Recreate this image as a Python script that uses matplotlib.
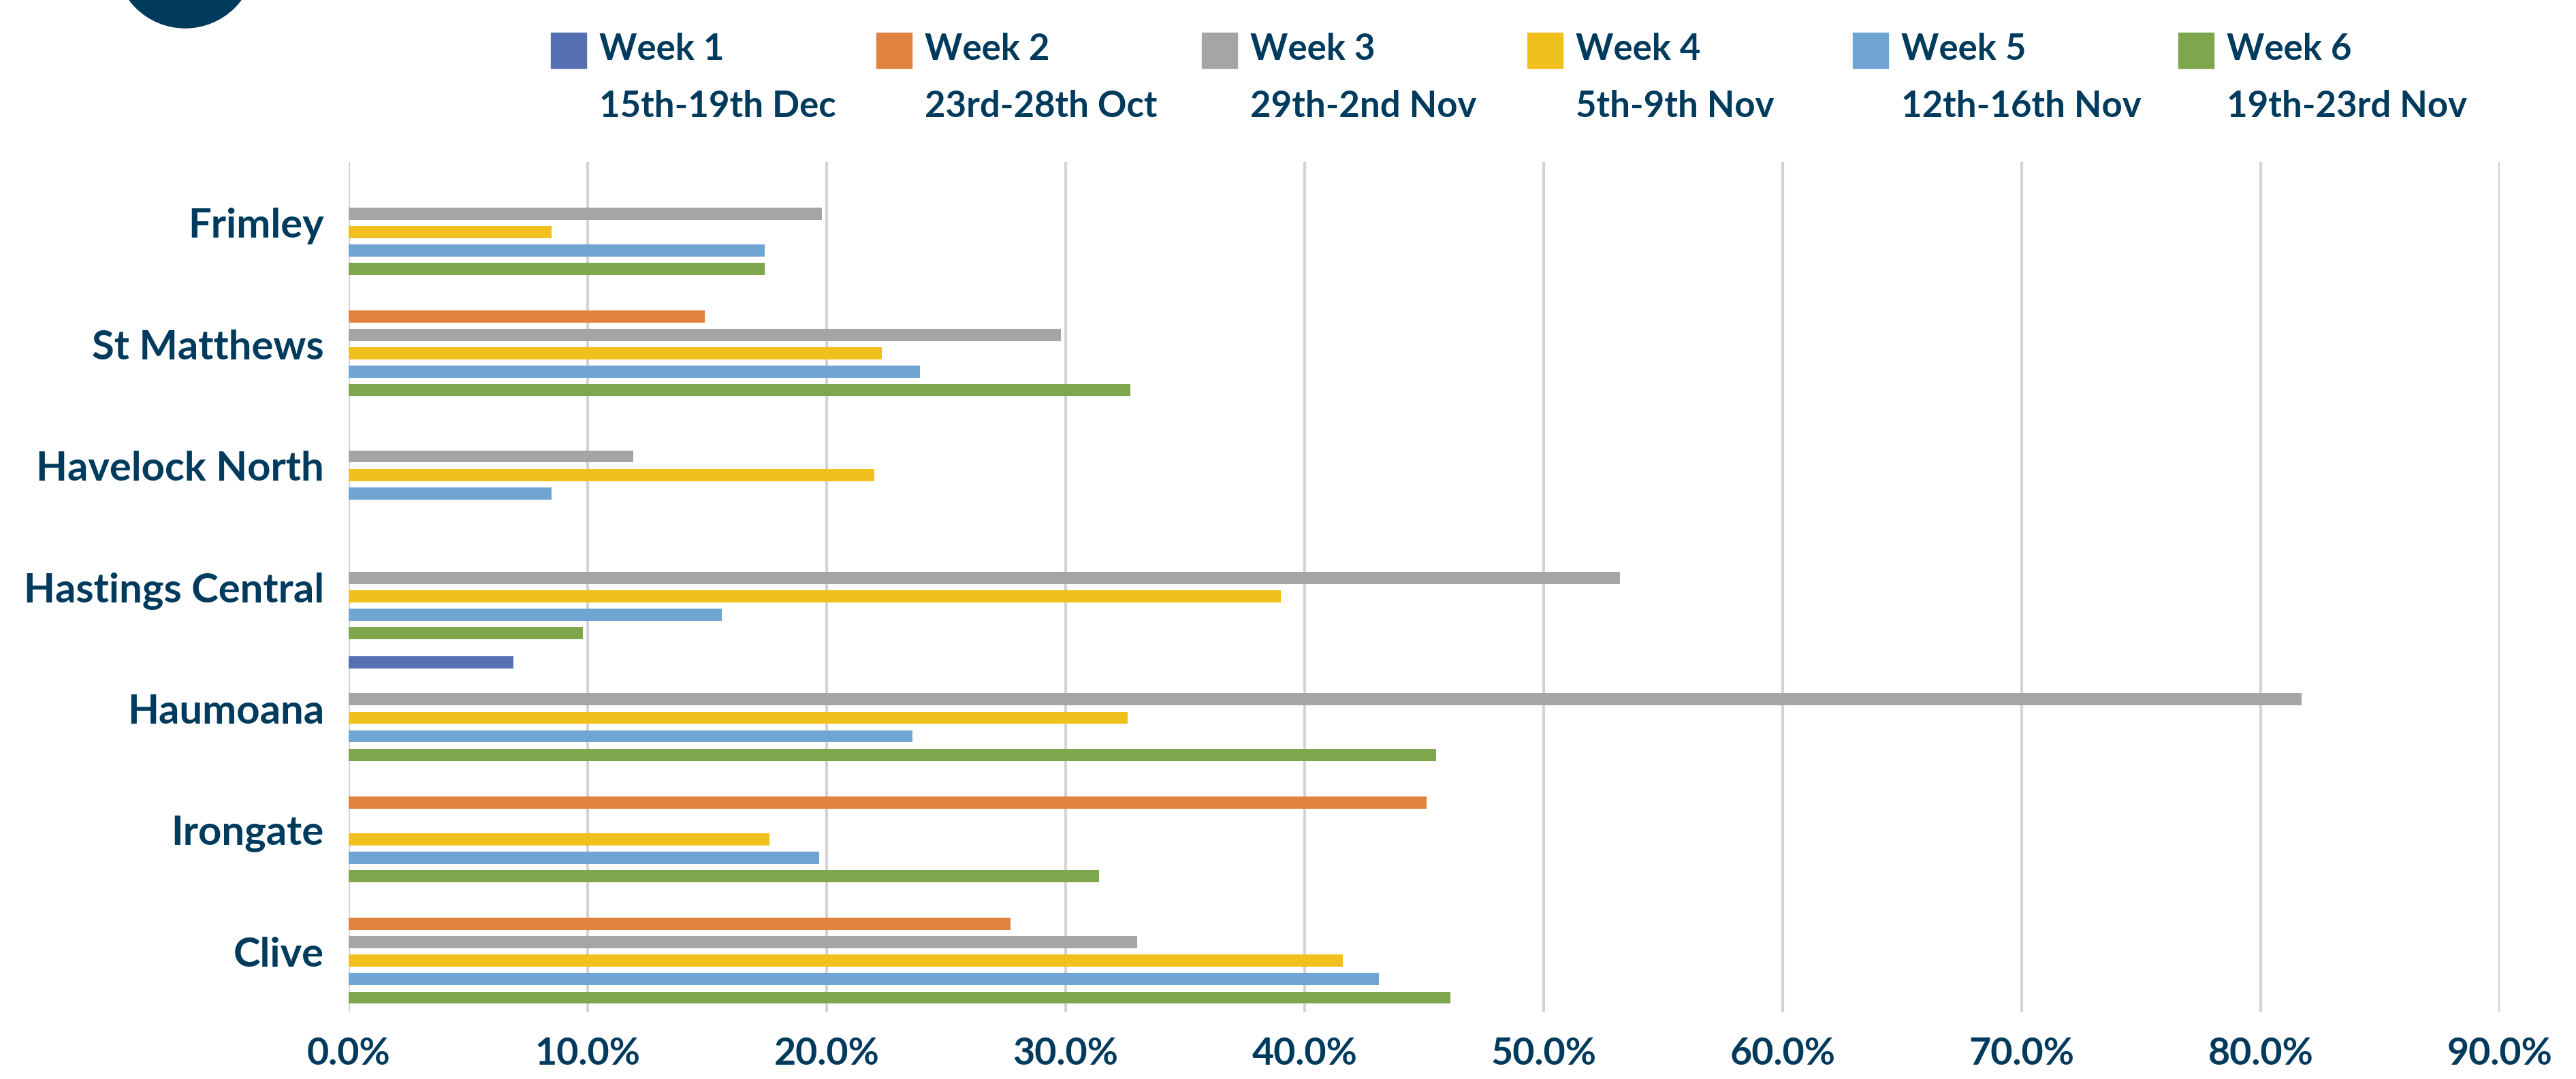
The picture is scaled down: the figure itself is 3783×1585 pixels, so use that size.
import matplotlib
matplotlib.use("Agg")
import matplotlib.pyplot as plt
from matplotlib.patches import Rectangle, Ellipse
from matplotlib.ticker import FuncFormatter
import numpy as np

plt.rcParams['font.family'] = ['Lato', 'DejaVu Sans']
plt.rcParams['font.weight'] = 'bold'

categories = ["Frimley", "St Matthews", "Havelock North", "Hastings Central",
              "Haumoana", "Irongate", "Clive"]
series_names = ["Week 1", "Week 2", "Week 3", "Week 4", "Week 5", "Week 6"]
series_dates = ["15th-19th Dec", "23rd-28th Oct", "29th-2nd Nov", "5th-9th Nov",
                "12th-16th Nov", "19th-23rd Nov"]
colors = ["#5470b3", "#e18340", "#a5a5a5", "#f0c11c", "#70a5d3", "#7ea64d"]

nan = np.nan
week1 = [nan, nan, nan, nan, 0.069, nan, nan]
week2 = [nan, 0.149, nan, nan, nan, 0.451, 0.277]
week3 = [0.198, 0.298, 0.119, 0.532, 0.817, nan, 0.330]
week4 = [0.085, 0.223, 0.220, 0.390, 0.326, 0.176, 0.416]
week5 = [0.174, 0.239, 0.085, 0.156, 0.236, 0.197, 0.431]
week6 = [0.174, 0.327, nan, 0.098, 0.455, 0.314, 0.461]
series = [week1, week2, week3, week4, week5, week6]
xticks = [0.0, 0.1, 0.2, 0.3, 0.4, 0.5, 0.6, 0.7, 0.8, 0.9]

navy = "#003a5d"
W, H = 3783, 1585
fig = plt.figure(figsize=(W / 100, H / 100), dpi=100)
ax = fig.add_axes([512 / W, 1 - 1487 / H, (3671 - 512) / W, (1487 - 238) / H])

slot = 0.1518
bar_h = 0.100
y = np.arange(len(categories))
for j, vals in enumerate(series):
    v = np.array(vals, dtype=float)
    mask = ~np.isnan(v)
    ax.barh(y[mask] + (j - 2.5) * slot, v[mask], height=bar_h,
            color=colors[j], zorder=3, linewidth=0)

ax.set_xlim(0, 0.9)
ax.set_ylim(len(categories) - 0.5, -0.5)
ax.set_xticks(xticks)
ax.xaxis.set_major_formatter(FuncFormatter(lambda v, p: f"{v * 100:.1f}%"))
ax.set_yticks(y)
ax.set_yticklabels(categories)
ax.tick_params(axis='x', length=0, pad=26, labelsize=40, labelcolor=navy)
ax.tick_params(axis='y', length=0, pad=26, labelsize=43, labelcolor=navy)
for lbl in ax.get_xticklabels() + ax.get_yticklabels():
    lbl.set_fontweight('bold')
ax.grid(axis='x', color='#d3d3d3', linewidth=3, zorder=0)
ax.grid(axis='y', visible=False)
ax.set_axisbelow(True)
for s in ax.spines.values():
    s.set_visible(False)

# legend (manual, two rows)
for i, (name, date) in enumerate(zip(series_names, series_dates)):
    x0 = 809 + 478 * i
    fig.patches.append(Rectangle((x0 / W, 1 - 100 / H), 52 / W, 52 / H,
                                 transform=fig.transFigure, color=colors[i]))
    fig.text((x0 + 71) / W, 1 - 73 / H, name, color=navy, fontsize=38,
             fontweight='bold', va='center', ha='left')
    fig.text((x0 + 71) / W, 1 - 156 / H, date, color=navy, fontsize=38,
             fontweight='bold', va='center', ha='left')

# logo fragment
fig.patches.append(Ellipse((272 / W, 1 + 61.5 / H), 205 / W, 205 / H,
                           transform=fig.transFigure, color=navy))

fig.savefig("out.png", dpi=100, facecolor='white')
